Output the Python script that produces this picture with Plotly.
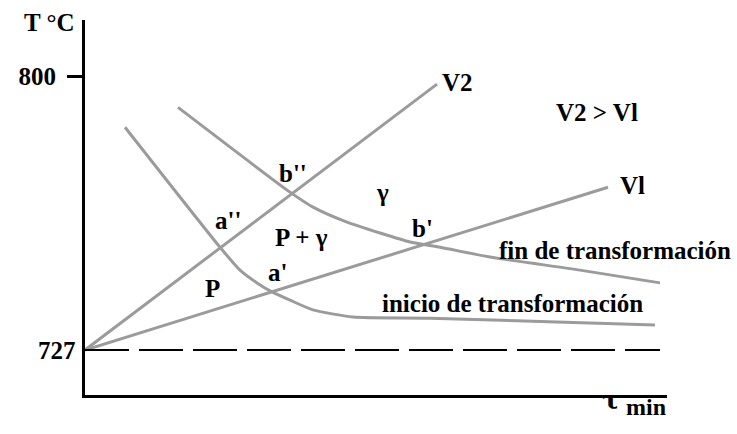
import plotly.graph_objects as go

# cooling lines (time in arbitrary units, temperature in °C)
v2_t = [0, 35.2]
v2_T = [727, 797.9]
v1_t = [0, 52.3]
v1_T = [727, 770.4]

# start of transformation curve
start_t = [4.0, 13.5, 15.5, 17.2, 18.7, 20.5, 22.8, 26.8, 34.5, 57.0]
start_T = [786.4, 754.4, 748.3, 744.9, 742.5, 740.3, 737.7, 735.8, 735.5, 733.7]

# end of transformation curve
end_t = [9.3, 20.5, 22.8, 26.2, 29.5, 32.5, 35.5, 40.5, 49.5, 57.5]
end_T = [791.7, 769.1, 765.1, 761.1, 758.2, 755.8, 754.4, 751.8, 748.3, 744.9]

eutectoid_t = [0, 57.5]
eutectoid_T = [727, 727]

GREY = "rgb(155,155,155)"
FONT = dict(family="Liberation Serif", size=25, color="black", weight="bold")

fig = go.Figure()
for tt, TT in [(v2_t, v2_T), (v1_t, v1_T)]:
    fig.add_trace(go.Scatter(x=tt, y=TT, mode="lines",
                             line=dict(color=GREY, width=3), showlegend=False))
for tt, TT in [(start_t, start_T), (end_t, end_T)]:
    fig.add_trace(go.Scatter(x=tt, y=TT, mode="lines",
                             line=dict(color=GREY, width=3, shape="spline", smoothing=0.6),
                             showlegend=False))
fig.add_trace(go.Scatter(x=eutectoid_t, y=eutectoid_T, mode="lines",
                         line=dict(color="black", width=2, dash="44px,10px"),
                         showlegend=False))

def label(text, x, y, size=25, family=None, **kw):
    f = dict(FONT)
    f["size"] = size
    if family:
        f["family"] = family
    fig.add_annotation(text=text, x=x, y=y, showarrow=False, font=f, **kw)

label("V2", 37.2, 798.4)
label("Vl", 54.7, 771.0)
label("V2 > Vl", 51.2, 790.4)
label("b''", 20.8, 774.2)
label("γ", 29.7, 769.1)
label("b'", 33.7, 759.5)
label("a''", 14.3, 761.6)
label("P + γ", 21.6, 757.1)
label("a'", 19.2, 747.8)
label("P", 12.7, 743.5)
label("fin de transformación", 53.0, 753.6)
label("inicio de transformación", 42.7, 739.5)

# axis annotations
label("T °C", 0, 1, xref="paper", yref="paper", xanchor="right", yanchor="middle",
      xshift=-8, yshift=-2)
label("727", 0, 727, xref="paper", yref="y", xanchor="right", xshift=-7)
label("τ", 52.6, 0, yref="paper", yshift=-22, size=26, family="DejaVu Serif")
label("min", 56.1, 0, yref="paper", yshift=-27, size=24)

fig.update_layout(
    width=737, height=434,
    margin=dict(l=85, r=70, t=20, b=39),
    plot_bgcolor="white", paper_bgcolor="white",
    xaxis=dict(range=[0, 58.2], showgrid=False, zeroline=False, showticklabels=False,
               ticks="", showline=True, linewidth=3, linecolor="black"),
    yaxis=dict(range=[715, 815], showgrid=False, zeroline=False,
               tickvals=[800], ticktext=["800"], ticks="outside", ticklen=15,
               tickwidth=3, tickcolor="black", tickfont=FONT, ticklabelstandoff=6,
               showline=True, linewidth=3, linecolor="black"),
)

fig.write_html("out.html", config={"displayModeBar": False},
               post_script="document.body.style.margin='0';")
